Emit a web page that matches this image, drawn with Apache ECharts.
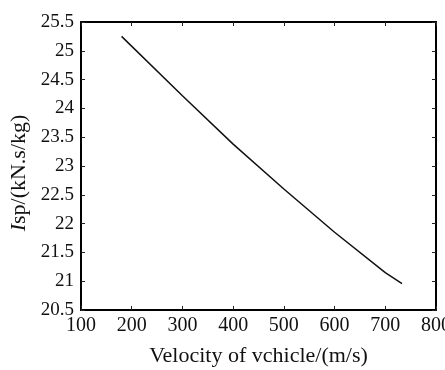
<!DOCTYPE html>
<html>
<head>
<meta charset="utf-8">
<script src="https://cdn.jsdelivr.net/npm/echarts@6/dist/echarts.min.js"></script>
<style>html,body{margin:0;padding:0;background:#fff}#c{width:445px;height:370px}</style>
</head>
<body>
<div id="c"></div>
<script>
const velocity = [180, 300, 400, 500, 600, 700, 733];
const isp = [25.25, 24.22, 23.38, 22.60, 21.85, 21.15, 20.96];
const xTitle = 'Velocity of vchicle/(m/s)';
const yTitle = '{i|I}sp/(kN.s/kg)';

const font = 'Liberation Serif';
const axisLine = { show: true, onZero: false, lineStyle: { color: '#000', width: 2 } };
const axisTick = { show: true, inside: true, length: 4, lineStyle: { color: '#222', width: 1 } };

const chart = echarts.init(document.getElementById('c'), null, { renderer: 'canvas' });
chart.setOption({
  animation: false,
  backgroundColor: '#fff',
  grid: { left: 81, top: 22, right: 9, bottom: 60, show: false, containLabel: false, outerBoundsMode: 'none' },
  xAxis: [
    {
      type: 'value', min: 100, max: 800, interval: 100, position: 'bottom',
      axisLine, axisTick, splitLine: { show: false },
      axisLabel: { fontFamily: font, fontSize: 20, color: '#111', margin: 6 },
      name: xTitle, nameLocation: 'middle', nameGap: 35,
      nameTextStyle: { fontFamily: font, fontSize: 22, color: '#111' }
    },
    {
      type: 'value', min: 100, max: 800, interval: 100, position: 'top',
      axisLine, axisTick, splitLine: { show: false }, axisLabel: { show: false }
    }
  ],
  yAxis: [
    {
      type: 'value', min: 20.5, max: 25.5, interval: 0.5, position: 'left',
      axisLine, axisTick, splitLine: { show: false },
      axisLabel: { fontFamily: font, fontSize: 19, color: '#111', margin: 7 },
      name: yTitle, nameLocation: 'middle', nameGap: 48, nameRotate: 90,
      nameTextStyle: { fontFamily: font, fontSize: 22, color: '#111', padding: [0, 14, 0, 0],
        rich: { i: { fontFamily: font, fontSize: 22, fontStyle: 'italic', color: '#111' } } }
    },
    {
      type: 'value', min: 20.5, max: 25.5, interval: 0.5, position: 'right',
      axisLine, axisTick, splitLine: { show: false }, axisLabel: { show: false }
    }
  ],
  series: [{
    type: 'line', data: velocity.map((v, i) => [v, isp[i]]),
    smooth: false, showSymbol: false, symbol: 'none',
    lineStyle: { color: '#111', width: 1.5 }
  }]
});
</script>
</body>
</html>
